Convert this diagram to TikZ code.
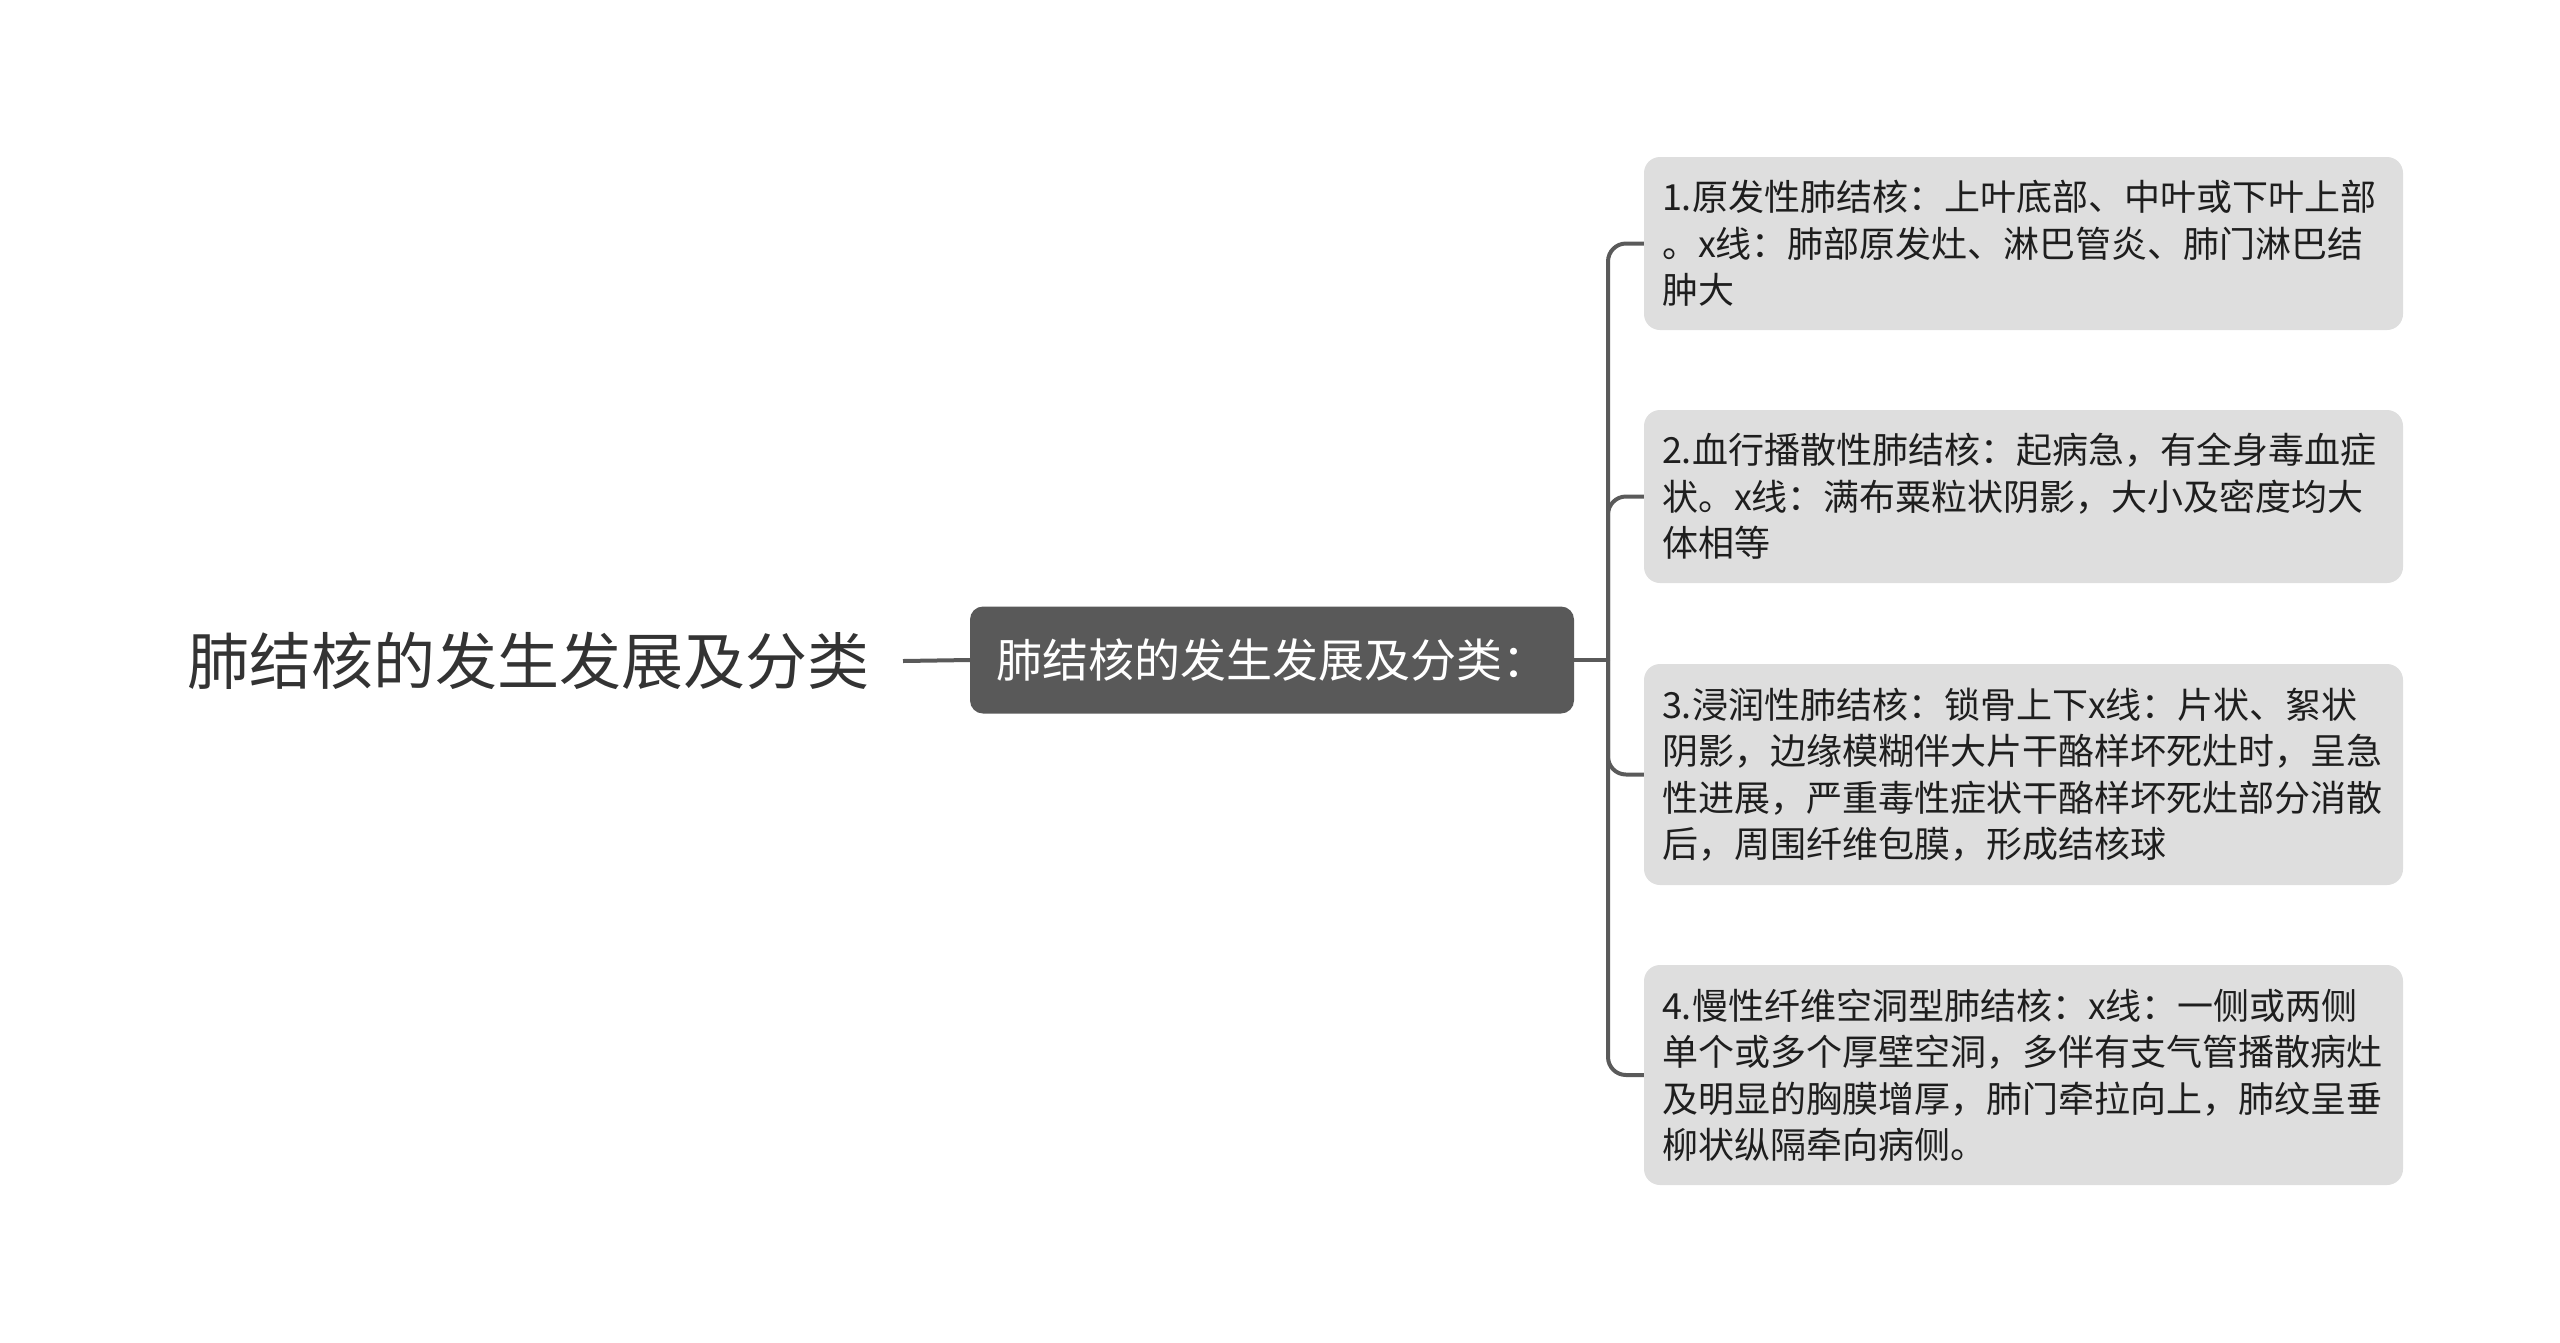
\documentclass[tikz,border=0pt]{standalone}
\usepackage{fontspec}
\setmainfont{Noto Sans CJK SC}
\definecolor{linec}{HTML}{5A5A5A}
\definecolor{cfill}{HTML}{595959}
\definecolor{kfill}{HTML}{DEDEDE}
\definecolor{roottxt}{HTML}{333333}
\definecolor{kidtxt}{HTML}{1E1E1E}
\begin{document}
\begin{tikzpicture}[x=1pt,y=-1pt,
  roottext/.style={font=\fontsize{62}{70}\selectfont, text=roottxt, inner xsep=33pt, inner ysep=0pt},
  centerbox/.style={fill=cfill, rounded corners=13pt, text=white, font=\fontsize{46}{54}\selectfont, minimum width=604pt, minimum height=107pt, inner sep=0pt},
  kidbox/.style={fill=kfill, rounded corners=16pt, text=kidtxt, font=\fontsize{36}{46.5}\selectfont, align=left, text width=723pt, inner xsep=18pt, inner ysep=0pt, minimum width=759pt},
  conn/.style={draw=linec, line width=4pt},
]
\useasboundingbox (0,0) rectangle (2560,1342);
\node[roottext, anchor=east] (root) at (903,661) {肺结核的发生发展及分类};
\node[centerbox] (c) at (1272,660) {肺结核的发生发展及分类：};
\coordinate (j) at (1608,660);
\node[kidbox, minimum height=173pt] (k1) at (2023.5,243.5) {1.原发性肺结核：上叶底部、中叶或下叶上部\\。x线：肺部原发灶、淋巴管炎、肺门淋巴结\\肿大};
\node[kidbox, minimum height=173pt] (k2) at (2023.5,496.5) {2.血行播散性肺结核：起病急，有全身毒血症\\状。x线：满布粟粒状阴影，大小及密度均大\\体相等};
\node[kidbox, minimum height=221pt] (k3) at (2023.5,774.5) {3.浸润性肺结核：锁骨上下x线：片状、絮状\\阴影，边缘模糊伴大片干酪样坏死灶时，呈急\\性进展，严重毒性症状干酪样坏死灶部分消散\\后，周围纤维包膜，形成结核球};
\node[kidbox, minimum height=220pt] (k4) at (2023.5,1075) {4.慢性纤维空洞型肺结核：x线：一侧或两侧\\单个或多个厚壁空洞，多伴有支气管播散病灶\\及明显的胸膜增厚，肺门牵拉向上，肺纹呈垂\\柳状纵隔牵向病侧。};
\draw[conn] (root.east) -- (c.west);
\draw[conn] (c.east) -- (j);
\foreach \k in {k1,k2,k3,k4} {
  \draw[conn, rounded corners=18pt] (j) |- (\k.west);
}
\end{tikzpicture}
\end{document}
